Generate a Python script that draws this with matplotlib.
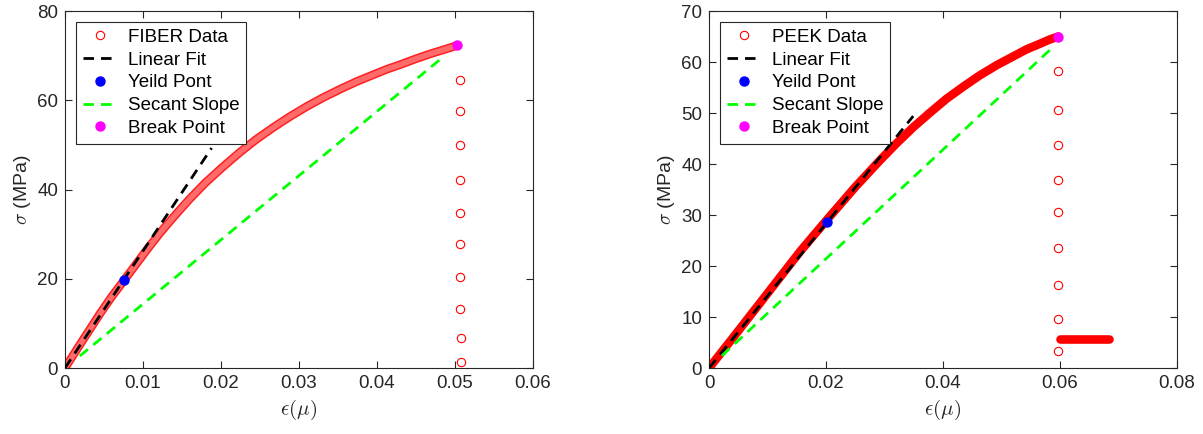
import matplotlib
matplotlib.use('Agg')
import matplotlib.pyplot as plt
from matplotlib.ticker import FuncFormatter, MultipleLocator

plt.rcParams['font.family'] = ['Liberation Sans', 'DejaVu Sans']
plt.rcParams['mathtext.fontset'] = 'cm'

# FIBER specimen
fiber_strain = [0, 0.0011, 0.0022, 0.0045, 0.0060, 0.0076, 0.0105, 0.0122,
                0.0140, 0.0160, 0.0180, 0.0202, 0.0224, 0.0245, 0.0267,
                0.0288, 0.0310, 0.0331, 0.0353, 0.0374, 0.0395, 0.0412,
                0.0430, 0.0450, 0.0470, 0.0487, 0.0503]
fiber_stress = [0, 3.0, 6.0, 12.2, 16.0, 19.7, 26.5, 30.3,
                34.0, 37.9, 41.5, 45.0, 48.3, 51.2, 53.9,
                56.3, 58.6, 60.6, 62.5, 64.2, 65.7, 66.9,
                68.0, 69.3, 70.5, 71.4, 72.3]
fiber_drop_strain = [0.0506, 0.0506, 0.0506, 0.0506, 0.0507,
                     0.0507, 0.0507, 0.0507, 0.0508, 0.0508]
fiber_drop_stress = [64.6, 57.7, 50.0, 42.2, 34.7, 27.8, 20.4, 13.2, 6.7, 1.3]
fiber_fit_x = [0, 0.0188]
fiber_fit_y = [0, 49.3]
fiber_yield = (0.0076, 19.7)
fiber_secant_x = [0.0019, 0.0487]
fiber_secant_y = [2.7, 70.0]
fiber_break = (0.0503, 72.3)

# PEEK specimen
peek_strain = [0, 0.0042, 0.0099, 0.0156, 0.0201, 0.0250, 0.0292, 0.0320,
               0.0349, 0.0378, 0.0406, 0.0435, 0.0463, 0.0492, 0.0520,
               0.0543, 0.0566, 0.0582, 0.0597]
peek_stress = [0, 6.1, 14.5, 22.9, 29.0, 35.5, 40.7, 44.0,
               47.2, 50.1, 52.8, 55.2, 57.4, 59.4, 61.1,
               62.5, 63.6, 64.4, 65.0]
peek_drop_strain = [0.0597] * 9
peek_drop_stress = [58.2, 50.5, 43.7, 36.9, 30.6, 23.5, 16.3, 9.6, 3.3]
peek_tail_strain = [0.0600, 0.0683]
peek_tail_stress = [5.6, 5.6]
peek_fit_x = [0, 0.0349]
peek_fit_y = [0, 49.4]
peek_yield = (0.0201, 28.6)
peek_secant_x = [0.0022, 0.0583]
peek_secant_y = [2.4, 62.4]
peek_break = (0.0597, 65.0)

AXIS_COLOR = '#262626'
FONT_SIZE = 13.5


def draw_panel(ax, name, strain, stress, drop_x, drop_y, fit_x, fit_y,
               yld, sec_x, sec_y, brk, band_style, xmax, xstep, ymax, ystep):
    # dense data markers drawn as a band along the measured curve
    for color, lw in band_style:
        ax.plot(strain, stress, color=color, lw=lw, solid_capstyle='round',
                solid_joinstyle='round', zorder=2)
    h_data, = ax.plot(drop_x, drop_y, 'o', ls='none', mfc='none', mec='red',
                      ms=6, mew=0.8, zorder=3)
    h_fit, = ax.plot(fit_x, fit_y, color='black', lw=2, dashes=(3.8, 2.5), zorder=4)
    h_yld, = ax.plot([yld[0]], [yld[1]], 'o', color='blue', ms=6.5, zorder=5)
    h_sec, = ax.plot(sec_x, sec_y, color='#00ff00', lw=2, dashes=(3.8, 2.5), zorder=4)
    h_brk, = ax.plot([brk[0]], [brk[1]], 'o', color='magenta', ms=6.5, zorder=5)

    ax.set_xlim(0, xmax)
    ax.set_ylim(0, ymax)
    ax.xaxis.set_major_locator(MultipleLocator(xstep))
    ax.yaxis.set_major_locator(MultipleLocator(ystep))
    fmt = FuncFormatter(lambda v, p: f'{v:g}')
    ax.xaxis.set_major_formatter(fmt)
    ax.yaxis.set_major_formatter(fmt)
    ax.tick_params(direction='in', top=True, right=True, length=5, width=0.8,
                   color=AXIS_COLOR, labelcolor=AXIS_COLOR, labelsize=FONT_SIZE, pad=5)
    for sp in ax.spines.values():
        sp.set_color(AXIS_COLOR)
        sp.set_linewidth(0.8)

    ax.set_xlabel(r'$\epsilon(\mu)$', fontsize=15, color=AXIS_COLOR, labelpad=4)
    ax.set_ylabel(r'$\sigma$ (MPa)', fontsize=14, color=AXIS_COLOR, labelpad=3)

    leg = ax.legend([h_data, h_fit, h_yld, h_sec, h_brk],
                    [f'{name} Data', 'Linear Fit', 'Yeild Pont', 'Secant Slope', 'Break Point'],
                    loc='upper left', fontsize=FONT_SIZE, fancybox=False,
                    edgecolor=AXIS_COLOR, framealpha=1, handlelength=1.8,
                    handletextpad=0.6, labelspacing=0.3, borderpad=0.35,
                    borderaxespad=0.6)
    leg.get_frame().set_linewidth(0.8)


fig = plt.figure(figsize=(12.03, 4.34), dpi=100)
ax1 = fig.add_axes([0.054, 0.152, 0.389, 0.8226])
ax2 = fig.add_axes([0.5894, 0.152, 0.389, 0.8226])

draw_panel(ax1, 'FIBER', fiber_strain, fiber_stress, fiber_drop_strain, fiber_drop_stress,
           fiber_fit_x, fiber_fit_y, fiber_yield, fiber_secant_x, fiber_secant_y,
           fiber_break, [('#ff2020', 6.2), ('#ff6a6a', 4.0)], 0.06, 0.01, 80, 20)

draw_panel(ax2, 'PEEK', peek_strain, peek_stress, peek_drop_strain, peek_drop_stress,
           peek_fit_x, peek_fit_y, peek_yield, peek_secant_x, peek_secant_y,
           peek_break, [('#ff0000', 6.2)], 0.08, 0.02, 70, 10)
ax2.plot(peek_tail_strain, peek_tail_stress, color='#ff0000', lw=6.2,
         solid_capstyle='round', zorder=2)

fig.savefig('out.png', dpi=100)
